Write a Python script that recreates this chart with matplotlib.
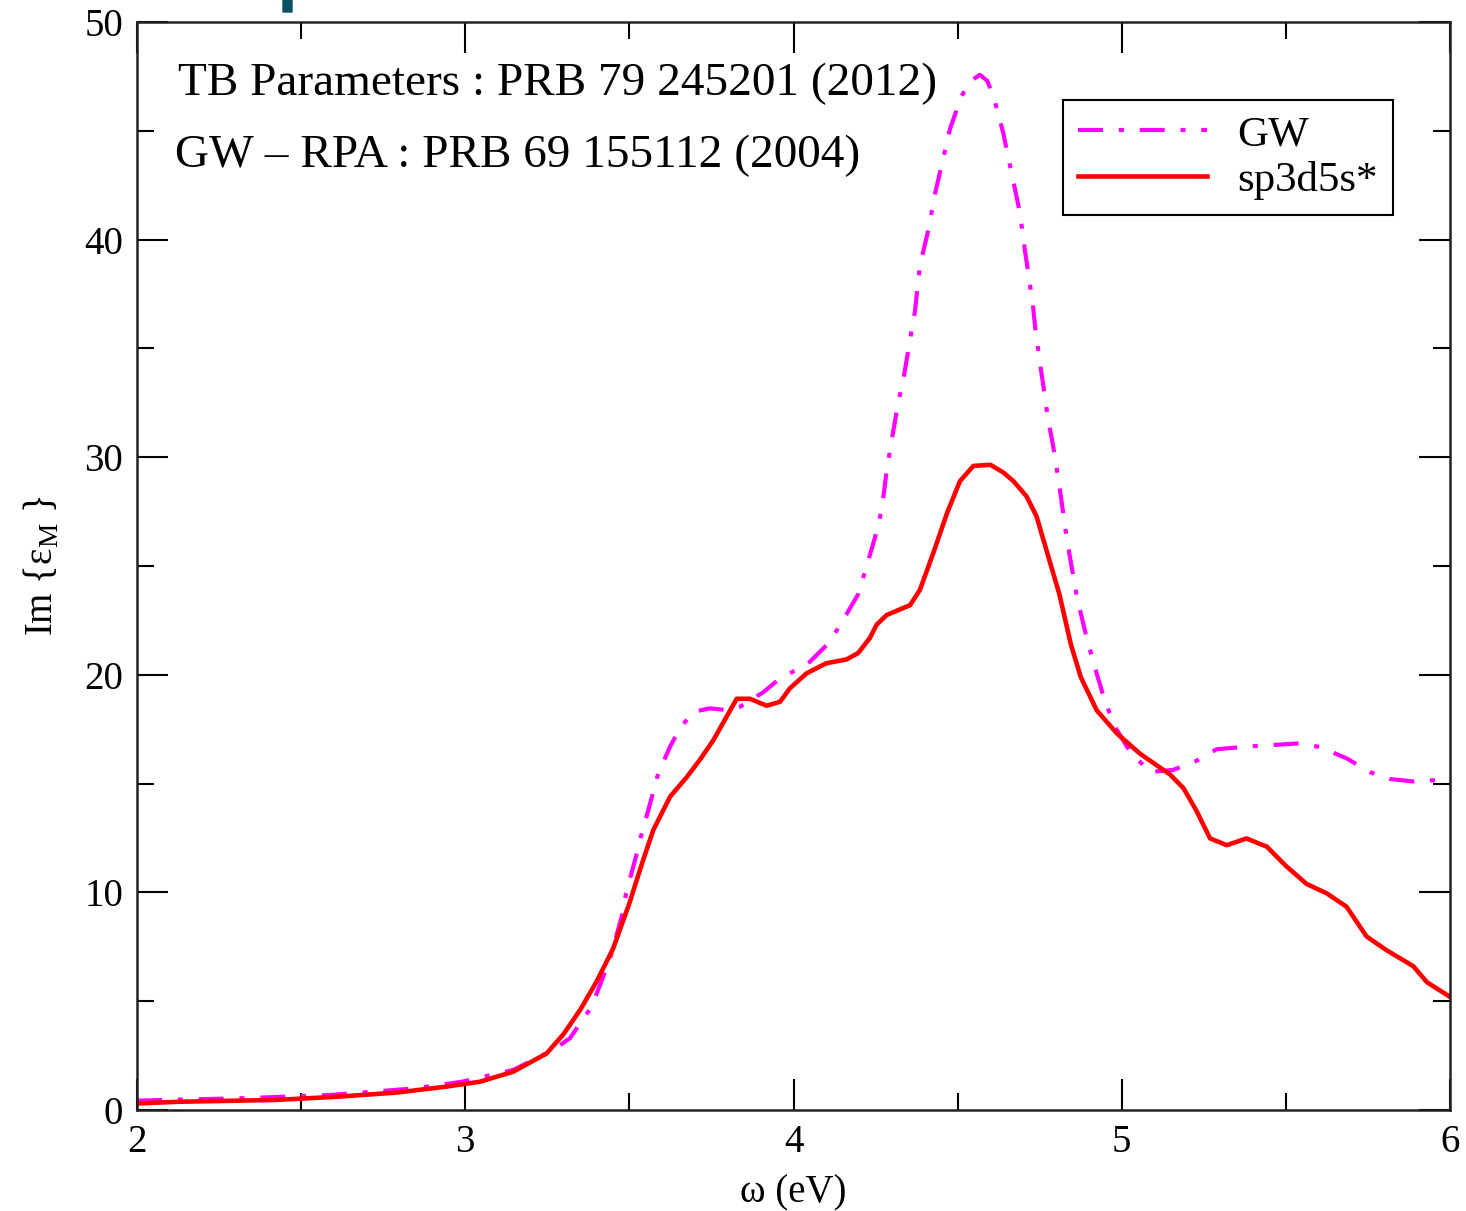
import matplotlib
matplotlib.use("Agg")
import matplotlib.pyplot as plt
from matplotlib.patches import FancyBboxPatch

plt.rcParams['font.family'] = ['Liberation Serif', 'DejaVu Serif']
plt.rcParams['mathtext.fontset'] = 'custom'
plt.rcParams['mathtext.rm'] = 'Liberation Serif'

# GW - RPA curve (magenta, dash-dot)
gw_x = [2.00, 2.08, 2.32, 2.59, 2.85, 2.99, 3.146, 3.268, 3.319, 3.385, 3.44, 3.477,
        3.49, 3.52, 3.532, 3.558, 3.588, 3.624, 3.654, 3.695, 3.746, 3.796, 3.837,
        3.908, 3.964, 4.02, 4.05, 4.11, 4.162, 4.197, 4.223, 4.248, 4.269, 4.284,
        4.304, 4.319, 4.335, 4.355, 4.37, 4.385, 4.411, 4.431, 4.451, 4.477, 4.512,
        4.54, 4.568, 4.59, 4.609, 4.639, 4.654, 4.675, 4.69, 4.705, 4.715, 4.73, 4.736, 4.751,
        4.761, 4.776, 4.79, 4.807, 4.832, 4.847, 4.863, 4.893, 4.924, 4.949, 4.98,
        5.025, 5.086, 5.157, 5.228, 5.289, 5.40, 5.543, 5.604, 5.685, 5.756, 5.817,
        5.888, 5.97, 6.0]
gw_y = [0.43, 0.46, 0.54, 0.69, 1.0, 1.3, 1.84, 2.76, 3.3, 4.75, 6.9, 8.9,
        9.96, 11.64, 12.4, 13.8, 15.47, 16.7, 17.54, 18.3, 18.46, 18.38, 18.53,
        19.2, 19.9, 20.3, 20.6, 21.5, 22.8, 23.7, 25.0, 26.3, 27.6, 29.4,
        31.2, 32.5, 33.6, 35.4, 36.7, 38.8, 40.46, 42.1, 43.4, 45.1, 46.6,
        47.3, 47.57, 47.3, 46.6, 44.9, 43.8, 42.3, 41.2, 39.5, 38.5, 36.9, 36.0, 34.3,
        33.3, 31.7, 30.6, 29.0, 26.3, 25.0, 23.6, 21.7, 20.04, 18.78, 17.6,
        16.47, 15.53, 15.63, 16.05, 16.58, 16.72, 16.85, 16.68, 16.16, 15.53, 15.21,
        15.1, 15.17, 15.2]

# sp3d5s* tight binding curve (red, solid)
tb_x = [2.00, 2.13, 2.42, 2.61, 2.79, 2.94, 3.045, 3.146, 3.248, 3.30, 3.35, 3.40,
        3.45, 3.50, 3.54, 3.573, 3.624, 3.675, 3.715, 3.756, 3.796, 3.827, 3.867,
        3.918, 3.959, 3.989, 4.04, 4.10, 4.162, 4.197, 4.233, 4.253, 4.284, 4.355,
        4.385, 4.426, 4.467, 4.507, 4.548, 4.60, 4.639, 4.67, 4.71, 4.74, 4.775,
        4.81, 4.845, 4.875, 4.924, 4.985, 5.056, 5.147, 5.188, 5.228, 5.269, 5.32,
        5.38, 5.442, 5.50, 5.563, 5.624, 5.685, 5.746, 5.807, 5.888, 5.93, 6.0]
tb_y = [0.30, 0.38, 0.46, 0.61, 0.80, 1.07, 1.30, 1.76, 2.6, 3.5, 4.6, 5.9,
        7.4, 9.5, 11.4, 12.87, 14.4, 15.3, 16.1, 17.0, 18.07, 18.9, 18.9,
        18.58, 18.76, 19.38, 20.07, 20.53, 20.71, 21.0, 21.7, 22.3, 22.75, 23.2,
        23.9, 25.6, 27.4, 28.9, 29.6, 29.65, 29.3, 28.9, 28.2, 27.3, 25.5,
        23.7, 21.4, 19.9, 18.36, 17.31, 16.37, 15.42, 14.79, 13.74, 12.48, 12.17,
        12.48, 12.1, 11.22, 10.39, 9.96, 9.34, 7.97, 7.34, 6.61, 5.87, 5.2]

labels = ['GW', 'sp3d5s*']
x_ticks = [2, 3, 4, 5, 6]
y_ticks = [0, 10, 20, 30, 40, 50]

fig = plt.figure(figsize=(14.66, 12.11), dpi=100)
ax = fig.add_axes([0.09345, 0.0834, 0.89564, 0.89843])

ax.plot(gw_x, gw_y, color='#ff00ff', lw=3, linestyle=(0, (6, 3.8, 1.2, 3.8)), label=labels[0])
ax.plot(tb_x, tb_y, color='#ff0000', lw=3.3, label=labels[1])

ax.set_xlim(2, 6)
ax.set_ylim(0, 50)
ax.set_xticks(x_ticks)
ax.set_yticks(y_ticks)
ax.set_xticks([2.5, 3.5, 4.5, 5.5], minor=True)
ax.set_yticks([5, 15, 25, 35, 45], minor=True)
ax.tick_params(which='both', direction='in', top=True, right=True, labelsize=28, width=1.5)
ax.tick_params(which='major', length=22, pad=10)
ax.tick_params(which='minor', length=12)
for s in ax.spines.values():
    s.set_linewidth(1.8)
    s.set_color('#222222')

ax.set_xlabel('ω (eV)', fontsize=28, labelpad=10)
ax.set_ylabel('Im {ε$_\\mathregular{M}$ }', fontsize=28, labelpad=16)

ax.text(0.031, 0.943, 'TB Parameters : PRB 79 245201 (2012)', transform=ax.transAxes,
        fontsize=34, va='center', ha='left')
ax.text(0.029, 0.877, 'GW \u2013 RPA : PRB 69 155112 (2004)', transform=ax.transAxes,
        fontsize=34, va='center', ha='left')

leg = ax.legend(loc='upper right', bbox_to_anchor=(0.9566, 0.9283), borderaxespad=0,
                fontsize=31, handlelength=3.0, handletextpad=0.7, labelspacing=0.15,
                borderpad=0.35, fancybox=False, framealpha=1)
leg.get_frame().set_edgecolor('black')
leg.get_frame().set_linewidth(1.5)

# small slide artefact at the top edge
fig.patches.append(FancyBboxPatch((283 / 1466, 1 - 12 / 1211), 9 / 1466, 14 / 1211,
                                  boxstyle='round,pad=0', transform=fig.transFigure,
                                  color='#0b4f63', zorder=5))

fig.savefig('out.png', dpi=100)
